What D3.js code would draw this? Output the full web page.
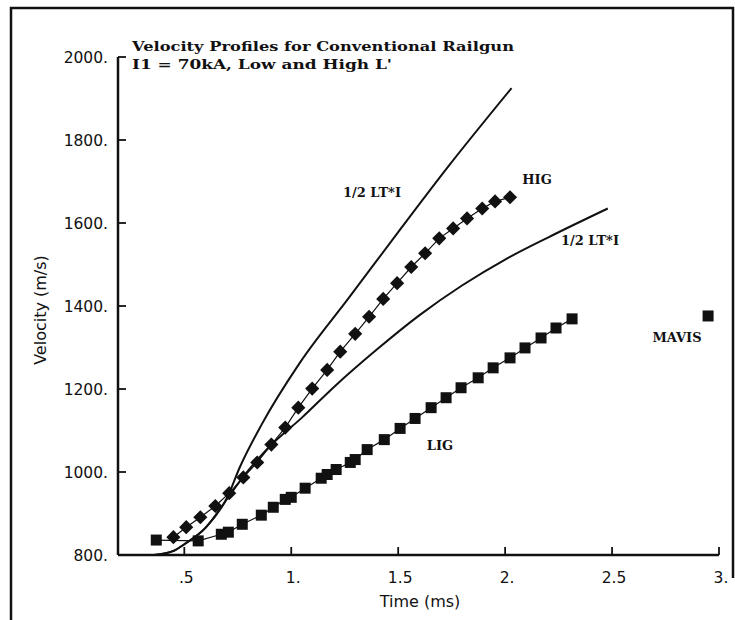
<!DOCTYPE html>
<html lang="en">
<head>
<meta charset="UTF-8">
<title>Velocity Profiles for Conventional Railgun</title>
<script src="https://d3js.org/d3.v7.min.js"></script>
<style>
  body { margin: 0; background: #fff; }
  svg { display: block; }
  .tick-label { font-family: "DejaVu Sans", sans-serif; font-size: 15.5px; fill: #111; }
  .axis-title { font-family: "DejaVu Sans", sans-serif; font-size: 16px; fill: #111; }
  .plot-text { font-family: "DejaVu Serif", serif; font-weight: bold; font-size: 13px; fill: #111; }
</style>
</head>
<body>
<div id="chart"></div>
<script>
// axis ticks
const xTicks = [0.5, 1, 1.5, 2, 2.5, 3];
const xTickLabels = [".5", "1.", "1.5", "2.", "2.5", "3."];
const yTicks = [800, 1000, 1200, 1400, 1600, 1800, 2000];
const yTickLabels = ["800.", "1000.", "1200.", "1400.", "1600.", "1800.", "2000."];

// HIG (diamonds)
const higTime = [0.449, 0.509, 0.575, 0.645, 0.710, 0.776, 0.841, 0.907, 0.972, 1.033, 1.098, 1.168, 1.229,
  1.299, 1.364, 1.430, 1.495, 1.561, 1.626, 1.692, 1.757, 1.822, 1.893, 1.953, 2.023];
const higVel = [843, 867, 891, 918, 949, 987, 1023, 1066, 1107, 1155, 1201, 1246, 1290,
  1333, 1374, 1417, 1455, 1494, 1527, 1563, 1587, 1611, 1635, 1652, 1662];

// LIG (squares)
const ligTime = [0.369, 0.565, 0.673, 0.706, 0.771, 0.860, 0.916, 0.972, 1.000, 1.065, 1.140, 1.168, 1.210,
  1.276, 1.299, 1.355, 1.435, 1.509, 1.579, 1.654, 1.724, 1.794, 1.874, 1.944, 2.023, 2.093, 2.168, 2.238, 2.313];
const ligVel = [836, 834, 850, 855, 874, 896, 915, 934, 939, 961, 985, 994, 1006,
  1023, 1030, 1054, 1078, 1105, 1129, 1155, 1179, 1203, 1227, 1251, 1275, 1299, 1323, 1347, 1369];

// MAVIS point
const mavisTime = [2.949];
const mavisVel = [1376];

// 1/2 LT*I curves (high L' and low L')
const ltiHighTime = [0.36, 0.45, 0.50, 0.60, 0.70, 0.76, 0.86, 1.04, 1.27, 1.50, 1.74, 2.03];
const ltiHighVel = [800, 810, 826, 866, 938, 1012, 1113, 1263, 1420, 1578, 1740, 1925];
const ltiLowTime = [0.36, 0.45, 0.50, 0.60, 0.70, 0.76, 0.90, 1.05, 1.20, 1.40, 1.60, 1.80, 2.00, 2.20, 2.48];
const ltiLowVel = [800, 810, 826, 866, 935, 978, 1062, 1131, 1205, 1295, 1378, 1450, 1512, 1565, 1635];

const width = 735, height = 620;

const x = d3.scaleLinear().domain([0.19, 3.0]).range([118, 719]);
const y = d3.scaleLinear().domain([800, 2000]).range([555, 57]);

const svg = d3.select("#chart").append("svg")
  .attr("width", width)
  .attr("height", height);

// outer frame
svg.append("path")
  .attr("d", "M11,620 L11,8 L733,8 L733,578")
  .attr("fill", "none")
  .attr("stroke", "#111")
  .attr("stroke-width", 2.5);

// axes
const axisG = svg.append("g");
axisG.append("line")
  .attr("x1", x.range()[0]).attr("x2", x.range()[0])
  .attr("y1", y(2000)).attr("y2", y(800))
  .attr("stroke", "#111").attr("stroke-width", 2.5);
axisG.append("line")
  .attr("x1", x.range()[0]).attr("x2", x.range()[1])
  .attr("y1", y(800)).attr("y2", y(800))
  .attr("stroke", "#111").attr("stroke-width", 2.5);

axisG.selectAll(".ytick").data(yTicks.slice(1)).enter().append("line")
  .attr("x1", x.range()[0]).attr("x2", x.range()[0] + 8)
  .attr("y1", d => y(d)).attr("y2", d => y(d))
  .attr("stroke", "#111").attr("stroke-width", 1.8);
axisG.selectAll(".xtick").data(xTicks).enter().append("line")
  .attr("x1", d => x(d)).attr("x2", d => x(d))
  .attr("y1", y(800)).attr("y2", y(800) - 8)
  .attr("stroke", "#111").attr("stroke-width", 1.8);

axisG.selectAll(".ylab").data(yTicks).enter().append("text")
  .attr("class", "tick-label")
  .attr("x", 108)
  .attr("y", d => y(d) + 6)
  .attr("text-anchor", "end")
  .text((d, i) => yTickLabels[i]);
axisG.selectAll(".xlab").data(xTicks).enter().append("text")
  .attr("class", "tick-label")
  .attr("x", d => x(d) + 2)
  .attr("y", 583)
  .attr("text-anchor", "middle")
  .text((d, i) => xTickLabels[i]);

svg.append("text")
  .attr("class", "axis-title")
  .attr("x", 420).attr("y", 607)
  .attr("text-anchor", "middle")
  .text("Time  (ms)");
svg.append("text")
  .attr("class", "axis-title")
  .attr("transform", "translate(46,310) rotate(-90)")
  .attr("text-anchor", "middle")
  .text("Velocity  (m/s)");

// title
svg.append("text").attr("class", "plot-text")
  .attr("x", 132).attr("y", 51)
  .attr("textLength", 382).attr("lengthAdjust", "spacingAndGlyphs")
  .text("Velocity Profiles for Conventional Railgun");
svg.append("text").attr("class", "plot-text")
  .attr("x", 132).attr("y", 69)
  .attr("textLength", 260).attr("lengthAdjust", "spacingAndGlyphs")
  .text("I1 = 70kA, Low and High L'");

// theory curves
const curve = d3.line().x(d => x(d[0])).y(d => y(d[1])).curve(d3.curveMonotoneX);
svg.append("path")
  .datum(d3.zip(ltiHighTime, ltiHighVel))
  .attr("d", curve).attr("fill", "none").attr("stroke", "#111").attr("stroke-width", 2);
svg.append("path")
  .datum(d3.zip(ltiLowTime, ltiLowVel))
  .attr("d", curve).attr("fill", "none").attr("stroke", "#111").attr("stroke-width", 2);

// data series
const link = d3.line().x(d => x(d[0])).y(d => y(d[1]));
const hig = d3.zip(higTime, higVel);
const lig = d3.zip(ligTime, ligVel);

svg.append("path").datum(hig).attr("d", link)
  .attr("fill", "none").attr("stroke", "#111").attr("stroke-width", 1.2);
svg.append("path").datum(lig).attr("d", link)
  .attr("fill", "none").attr("stroke", "#111").attr("stroke-width", 1.2);

svg.selectAll(".hig").data(hig).enter().append("rect")
  .attr("x", -5).attr("y", -5).attr("width", 10).attr("height", 10)
  .attr("transform", d => `translate(${x(d[0])},${y(d[1])}) rotate(45)`)
  .attr("fill", "#111");
svg.selectAll(".lig").data(lig).enter().append("rect")
  .attr("x", d => x(d[0]) - 5.5).attr("y", d => y(d[1]) - 5.5)
  .attr("width", 11).attr("height", 11)
  .attr("fill", "#111");
svg.selectAll(".mavis").data(d3.zip(mavisTime, mavisVel)).enter().append("rect")
  .attr("x", d => x(d[0]) - 5.5).attr("y", d => y(d[1]) - 5.5)
  .attr("width", 11).attr("height", 11)
  .attr("fill", "#111");

// labels inside the plot
const notes = [
  ["1/2  LT*I", 372, 197],
  ["HIG", 537, 184],
  ["1/2  LT*I", 590, 245],
  ["LIG", 440, 450],
  ["MAVIS", 677, 342]
];
svg.selectAll(".note").data(notes).enter().append("text")
  .attr("class", "plot-text")
  .attr("x", d => d[1]).attr("y", d => d[2])
  .attr("text-anchor", "middle")
  .text(d => d[0]);
</script>
</body>
</html>
